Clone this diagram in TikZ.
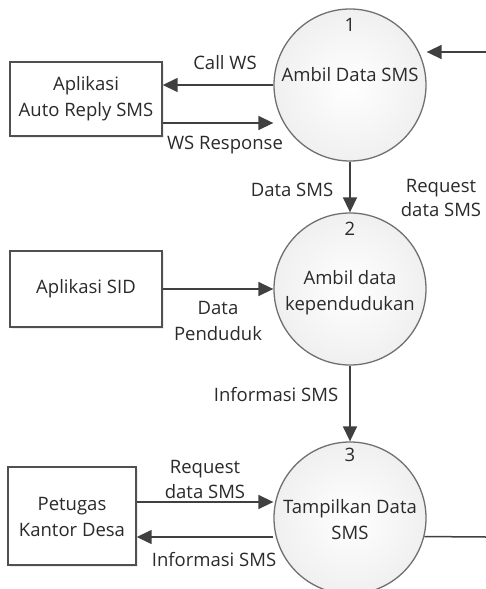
\documentclass[tikz,border=0pt]{standalone}
\usepackage{fontspec}
\setmainfont{Open Sans}
\usetikzlibrary{arrows.meta,shadows}
\definecolor{linec}{HTML}{404040}
\definecolor{txtc}{HTML}{2A2A2A}
\definecolor{circc}{HTML}{707070}
\definecolor{boxc}{HTML}{505050}
\tikzset{
  entity/.style={draw=boxc, line width=1.4pt, fill=white, inner sep=0pt,
    drop shadow={opacity=0.15, shadow xshift=2pt, shadow yshift=-2pt}},
  proc/.style={circle, draw=circc, line width=1.3pt, inner sep=0pt, minimum size=152pt,
    inner color=white, outer color=gray!12},
  txt/.style={text=txtc, inner sep=0pt, align=center},
  arr/.style={draw=linec, line width=1.5pt, -{Triangle[length=15pt,width=14pt]}},
  plain/.style={draw=linec, line width=1.5pt},
}
\begin{document}
\begin{tikzpicture}[x=1pt,y=-1pt, font=\fontsize{18.5}{26}\selectfont]
\useasboundingbox (0,0) rectangle (486,589);
% entities
\node[entity, minimum width=152pt, minimum height=74pt] (b1) at (86,99) {};
\node[entity, minimum width=152pt, minimum height=76pt] (b2) at (86,289) {};
\node[entity, minimum width=128pt, minimum height=98pt] (b3) at (72,516) {};
\node[txt] (b1t) at (86,98.5) {Aplikasi\\Auto Reply SMS};
\node[txt] (b2t) at (86,289) {Aplikasi SID};
\node[txt] (b3t) at (72,517) {Petugas\\Kantor Desa};
% processes
\node[proc] (c1) at (350,85) {};
\node[proc] (c2) at (350,289) {};
\node[proc] (c3) at (350,518) {};
\node[txt] (n1) at (350,25) {1};
\node[txt] (t1) at (350,75) {Ambil Data SMS};
\node[txt] (n2) at (350,229) {2};
\node[txt] (t2) at (350,293) {Ambil data\\kependudukan};
\node[txt] (n3) at (350,455) {3};
\node[txt] (t3) at (350,520) {Tampilkan Data\\SMS};
% free ends
\coordinate (in1) at (486,52);
\coordinate (out3) at (486,537);
% connectors
\draw[arr] (c1.west) -- (c1.west -| b1.east);
\draw[arr] (b1.east |- 0,123) -- (c1.west |- 0,123);
\draw[arr] (in1) -- (c1.east |- in1);
\draw[arr] (c1.south) -- (c2.north);
\draw[arr] (b2.east |- c2.west) -- (c2.west);
\draw[arr] (c2.south) -- (c3.north);
\draw[arr] (b3.east |- 0,502) -- (c3.west |- 0,502);
\draw[arr] (c3.west |- out3) -- (b3.east |- out3);
\draw[plain] (c3.-14.5) -- (out3);
% labels
\node[txt] (l1) at (225,63) {Call WS};
\node[txt] (l2) at (225,145) {WS Response};
\node[txt] (l3) at (292,190) {Data SMS};
\node[txt, font=\fontsize{18.5}{24}\selectfont] (l4) at (441,198) {Request\\data SMS};
\node[txt] (l5) at (218,320.5) {Data\\Penduduk};
\node[txt] (l6) at (276,395) {Informasi SMS};
\node[txt, font=\fontsize{18.5}{25}\selectfont] (l7) at (205,479.5) {Request\\data SMS};
\node[txt] (l8) at (214,560) {Informasi SMS};
\end{tikzpicture}
\end{document}
